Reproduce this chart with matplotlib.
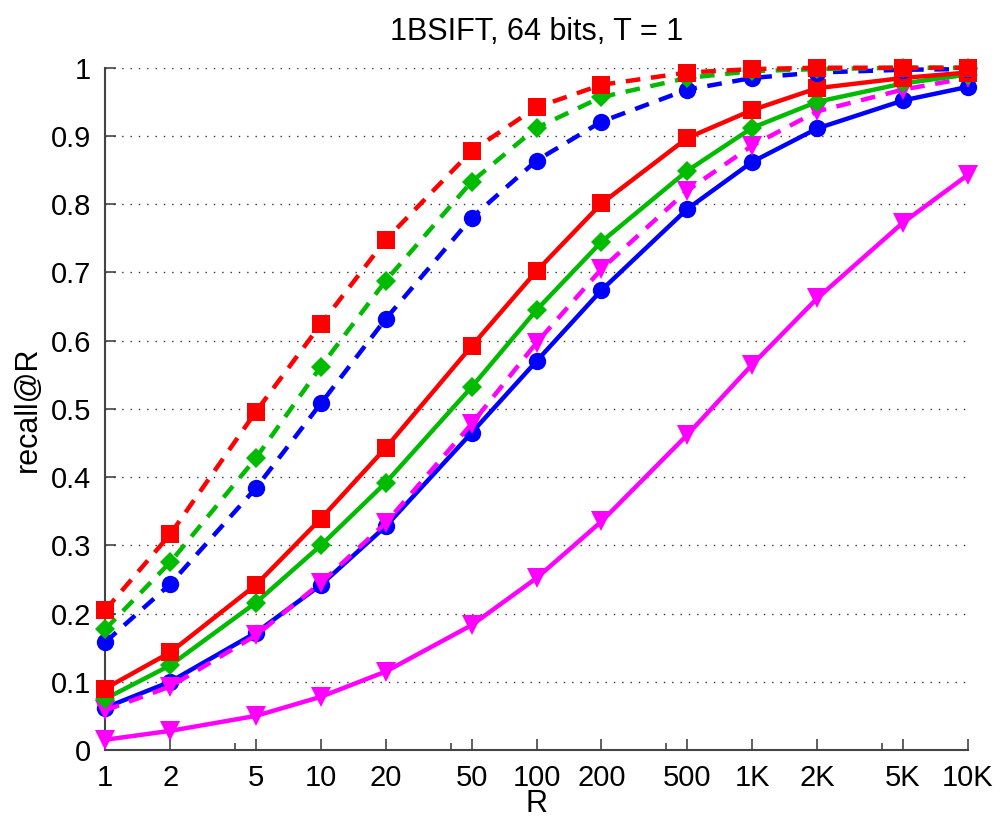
import matplotlib
matplotlib.use("Agg")
import matplotlib.pyplot as plt

plt.rcParams['font.family'] = ['Liberation Sans', 'DejaVu Sans']

R = [1, 2, 5, 10, 20, 50, 100, 200, 500, 1000, 2000, 5000, 10000]
tick_labels = ['1', '2', '5', '10', '20', '50', '100', '200', '500', '1K', '2K', '5K', '10K']

mag_solid = [0.015, 0.028, 0.050, 0.078, 0.115, 0.183, 0.252, 0.335, 0.462, 0.565, 0.662, 0.773, 0.843]
blue_solid = [0.062, 0.100, 0.172, 0.242, 0.328, 0.465, 0.570, 0.674, 0.793, 0.862, 0.911, 0.952, 0.972]
mag_dashed = [0.058, 0.093, 0.168, 0.245, 0.333, 0.478, 0.597, 0.705, 0.820, 0.886, 0.936, 0.968, 0.985]
green_solid = [0.075, 0.124, 0.216, 0.300, 0.392, 0.532, 0.645, 0.745, 0.849, 0.912, 0.950, 0.977, 0.990]
red_solid = [0.090, 0.143, 0.242, 0.339, 0.443, 0.592, 0.702, 0.801, 0.897, 0.938, 0.970, 0.985, 0.993]
blue_dashed = [0.158, 0.243, 0.384, 0.508, 0.632, 0.780, 0.864, 0.921, 0.968, 0.985, 0.993, 0.997, 0.998]
green_dashed = [0.177, 0.275, 0.428, 0.562, 0.688, 0.833, 0.912, 0.957, 0.985, 0.995, 0.998, 1.0, 1.0]
red_dashed = [0.205, 0.316, 0.496, 0.624, 0.748, 0.878, 0.942, 0.975, 0.993, 0.998, 1.0, 1.0, 1.0]

MAG, BLUE, GREEN, RED = '#ff00ff', '#0000ff', '#00bb00', '#ff0000'

fig = plt.figure(figsize=(10.02, 8.3), dpi=100)
ax = fig.add_axes([0.105, 0.0964, 0.861, 0.822])

series = [
    (mag_solid, MAG, 'v', '-', 14),
    (blue_solid, BLUE, 'o', '-', 12.5),
    (mag_dashed, MAG, 'v', '--', 14),
    (green_solid, GREEN, 'D', '-', 10.5),
    (red_solid, RED, 's', '-', 12.5),
    (blue_dashed, BLUE, 'o', '--', 12.5),
    (green_dashed, GREEN, 'D', '--', 10.5),
    (red_dashed, RED, 's', '--', 12.5),
]
for vals, col, mk, ls, ms in series:
    line, = ax.plot(R, vals, color=col, marker=mk, linestyle=ls, lw=3.2,
                    markersize=ms, markeredgewidth=0, clip_on=False, zorder=3)
    if ls == '--':
        line.set_dashes((3.3, 2.4))

ax.set_xscale('log')
ax.set_xlim(1, 10000)
ax.set_ylim(0, 1)
ax.set_xticks(R)
ax.set_xticklabels(tick_labels)
ax.set_xticks([4, 40, 400, 4000], minor=True)
ax.set_xticklabels([], minor=True)
yt = [i / 10 for i in range(11)]
ax.set_yticks(yt)
ax.set_yticklabels(['0'] + ['%.1f' % v for v in yt[1:-1]] + ['1'])

for v in yt[1:]:
    ax.axhline(v, color='#333333', lw=1.0, linestyle=(0, (1, 5)), zorder=1)

for s in ['top', 'right']:
    ax.spines[s].set_visible(False)
for s in ['left', 'bottom']:
    ax.spines[s].set_color('#444444')
    ax.spines[s].set_linewidth(1.5)

ax.tick_params(axis='both', which='major', direction='in', length=8, width=1.2,
               color='#444444', labelsize=21, pad=10)
ax.tick_params(axis='x', which='minor', direction='in', length=5, width=1.2, color='#444444')
ax.tick_params(axis='y', which='minor', left=False)

ax.set_xlabel('R', fontsize=22, labelpad=-2)
ax.set_ylabel('recall@R', fontsize=22, labelpad=6)
ax.set_title('1BSIFT, 64 bits, T = 1', fontsize=22, pad=20)

fig.savefig('out.png', dpi=100)
